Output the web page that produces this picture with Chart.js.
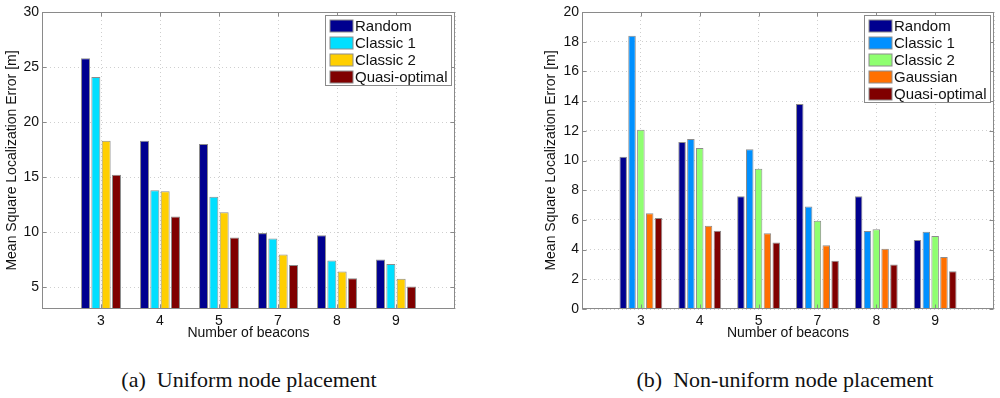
<!DOCTYPE html>
<html>
<head>
<meta charset="utf-8">
<script src="https://cdn.jsdelivr.net/npm/chart.js@4.4.1/dist/chart.umd.min.js"></script>
<style>
  body { margin: 0; background: #fff; width: 1000px; height: 398px; position: relative; overflow: hidden; }
  .panel { position: absolute; top: 0; width: 500px; height: 342px; }
  .cap { position: absolute; top: 367px; width: 500px; text-align: center; white-space: pre;
         font-family: "Liberation Serif", "Times New Roman", serif; font-size: 22px; color: #111; }
</style>
</head>
<body>
<div class="panel" style="left:0"><canvas id="uniform" width="500" height="342"></canvas></div>
<div class="panel" style="left:500px"><canvas id="nonuniform" width="500" height="342"></canvas></div>
<div class="cap" style="left:-1px">(a)  Uniform node placement</div>
<div class="cap" style="left:535px">(b)  Non-uniform node placement</div>
<script>
const beacons = ['3', '4', '5', '7', '8', '9']
const uniformTicks = [5, 10, 15, 20, 25, 30]
const nonUniformTicks = [0, 2, 4, 6, 8, 10, 12, 14, 16, 18, 20]

// (a) uniform placement
const uRandom = [25.8, 18.3, 18.0, 9.9, 9.7, 7.5]
const uClassic1 = [24.1, 13.8, 13.2, 9.4, 7.4, 7.1]
const uClassic2 = [18.3, 13.7, 11.8, 7.95, 6.4, 5.75]
const uQuasi = [15.2, 11.4, 9.5, 7.0, 5.8, 5.05]

// (b) non-uniform placement
const nRandom = [10.25, 11.25, 7.6, 13.8, 7.6, 4.65]
const nClassic1 = [18.4, 11.45, 10.75, 6.9, 5.25, 5.2]
const nClassic2 = [12.07, 10.85, 9.45, 5.95, 5.37, 4.92]
const nGaussian = [6.45, 5.6, 5.1, 4.3, 4.05, 3.5]
const nQuasi = [6.12, 5.27, 4.47, 3.25, 3.0, 2.55]

const font = '"Liberation Sans", Arial, Helvetica, sans-serif'
const frameColor = '#8a8a8a'

function pts(values) {
  return values.map((v, i) => ({ x: i + 1, y: v }))
}

function ds(label, values, color) {
  return { label: label, data: pts(values), backgroundColor: color, borderColor: '#8c8c8c', borderWidth: 1 }
}

// MATLAB style box with inward ticks, plus the legend in the top right corner
const matlabBox = {
  id: 'matlabBox',
  afterDatasetsDraw(chart) {
    const ctx = chart.ctx
    const a = chart.chartArea
    const xs = chart.scales.x
    const ys = chart.scales.y
    ctx.save()
    ctx.strokeStyle = frameColor
    ctx.lineWidth = 1
    const L = Math.round(a.left) + 0.5, R = Math.round(a.right) - 0.5
    const T = Math.round(a.top) + 0.5, B = Math.round(a.bottom) - 0.5
    ctx.strokeRect(L, T, R - L, B - T)
    ctx.beginPath()
    ys.ticks.forEach(t => {
      const y = Math.round(ys.getPixelForValue(t.value)) + 0.5
      ctx.moveTo(L, y); ctx.lineTo(L + 4, y)
      ctx.moveTo(R, y); ctx.lineTo(R - 4, y)
    })
    for (let i = 1; i <= beacons.length; i++) {
      const x = Math.round(xs.getPixelForValue(i)) + 0.5
      ctx.moveTo(x, B); ctx.lineTo(x, B - 4)
      ctx.moveTo(x, T); ctx.lineTo(x, T + 4)
    }
    ctx.stroke()

    // legend
    const sets = chart.data.datasets
    ctx.font = '15px ' + font
    const textW = Math.max(...sets.map(d => ctx.measureText(d.label).width))
    const w = Math.round(29 + textW + 4)
    const h = sets.length * 17 + 2
    const x0 = Math.round(a.right - 4 - w) + 0.5
    const y0 = Math.round(a.top + 3) + 0.5
    ctx.fillStyle = '#fff'
    ctx.fillRect(x0, y0, w, h)
    ctx.strokeStyle = frameColor
    ctx.strokeRect(x0, y0, w, h)
    ctx.textBaseline = 'middle'
    sets.forEach((d, i) => {
      const cy = y0 + 10.5 + i * 17
      ctx.fillStyle = d.backgroundColor
      ctx.fillRect(x0 + 4.5, cy - 6, 23, 12)
      ctx.strokeStyle = '#8c8c8c'
      ctx.strokeRect(x0 + 4.5, cy - 6, 23, 12)
      ctx.fillStyle = '#111'
      ctx.fillText(d.label, x0 + 29.5, cy + 0.5)
    })
    ctx.restore()
  }
}

function makeChart(id, datasets, yMin, yMax, yTicks, catPct, barPct, padLeft, padRight, yWidth) {
  return new Chart(document.getElementById(id), {
    type: 'bar',
    data: { datasets: datasets },
    plugins: [matlabBox],
    options: {
      responsive: false,
      animation: false,
      categoryPercentage: catPct,
      barPercentage: barPct,
      layout: { padding: { top: 12, left: padLeft, right: padRight, bottom: 0 } },
      plugins: { legend: { display: false }, tooltip: { enabled: false } },
      scales: {
        x: {
          type: 'linear',
          offset: false,
          min: 0,
          max: beacons.length + 1,
          afterBuildTicks: s => { s.ticks = [0, 1, 2, 3, 4, 5, 6, 7].map(v => ({ value: v })) },
          afterFit: s => { s.height = 33 },
          ticks: {
            callback: v => beacons[v - 1] || '',
            color: '#111', padding: 4, maxRotation: 0,
            font: { family: font, size: 14 }
          },
          grid: { color: '#cfcfcf', drawTicks: false, offset: false },
          border: { display: false, dash: [1, 3] },
          title: {
            display: true, text: 'Number of beacons', color: '#111',
            font: { family: font, size: 14 }, padding: { top: 0, bottom: 0 }
          }
        },
        y: {
          min: yMin,
          max: yMax,
          afterBuildTicks: s => { s.ticks = yTicks.map(v => ({ value: v })) },
          afterFit: s => { s.width = yWidth },
          ticks: { color: '#111', padding: 3, font: { family: font, size: 14 } },
          grid: { color: '#cfcfcf', drawTicks: false },
          border: { display: false, dash: [1, 3] },
          title: {
            display: true, text: 'Mean Square Localization Error [m]', color: '#111',
            font: { family: font, size: 14 }, padding: { top: 4, bottom: 0 }
          }
        }
      }
    }
  })
}

makeChart('uniform', [
  ds('Random', uRandom, '#00008f'),
  ds('Classic 1', uClassic1, '#00dfff'),
  ds('Classic 2', uClassic2, '#ffcf00'),
  ds('Quasi-optimal', uQuasi, '#800000')
], 3, 30, uniformTicks, 0.7, 0.87, 0, 45, 42)

makeChart('nonuniform', [
  ds('Random', nRandom, '#00008f'),
  ds('Classic 1', nClassic1, '#0090ff'),
  ds('Classic 2', nClassic2, '#8fff70'),
  ds('Gaussian', nGaussian, '#ff7000'),
  ds('Quasi-optimal', nQuasi, '#800000')
], 0, 20, nonUniformTicks, 0.75, 0.85, 39, 6, 43)
</script>
</body>
</html>
